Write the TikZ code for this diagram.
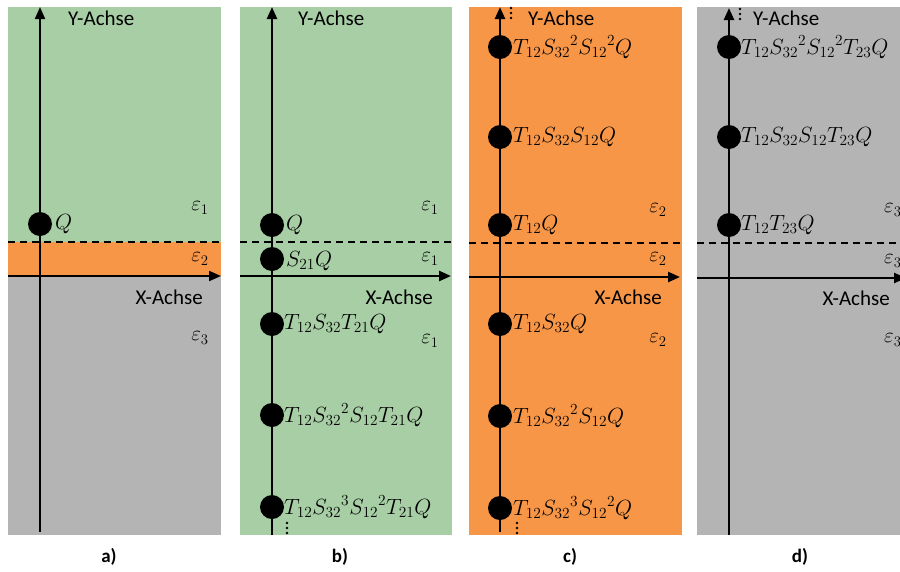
\documentclass[tikz,border=0pt]{standalone}
\usepackage{fix-cm}
\usepackage{fontspec}
\setsansfont{Carlito}
\usetikzlibrary{arrows.meta}
\definecolor{pgreen}{RGB}{168,206,165}
\definecolor{porange}{RGB}{248,150,72}
\definecolor{pgrey}{RGB}{180,180,180}
\newcommand{\mfont}{\fontsize{22}{26}\selectfont}
\tikzset{
  axisline/.style={line width=2.4pt, -{Triangle[length=12pt,width=10pt]}},
  dotn/.style={circle, fill=black, minimum size=24pt, inner sep=0pt},
  lbl/.style={anchor=west, inner sep=0pt, font=\mfont},
  axlbl/.style={font=\sffamily\fontsize{21}{24}\selectfont, inner sep=0pt},
  epslbl/.style={font=\fontsize{21}{24}\selectfont, inner sep=0pt},
  sublbl/.style={font=\sffamily\bfseries\fontsize{19}{22}\selectfont, inner sep=0pt},
  sepline/.style={dash pattern=on 7pt off 5pt, line width=1.8pt}
}
\newcommand{\threedots}[2]{\fill (#1,#2) circle (1.4) (#1,#2+5) circle (1.4) (#1,#2+10) circle (1.4);}
\begin{document}
\begin{tikzpicture}[x=1pt,y=-1pt]
\useasboundingbox (0,0) rectangle (900,571);
\clip (0,0) rectangle (900,571);
\fill[white] (0,0) rectangle (900,571);
% ---------------- panel a
\fill[pgreen] (8,7) rectangle (221,242);
\fill[porange] (8,242) rectangle (221,276);
\fill[pgrey] (8,276) rectangle (221,535);
\coordinate (aDl) at (8,242); \coordinate (aDr) at (221,242);
\draw[sepline] (aDl) -- (aDr);
\coordinate (aYb) at (40,532); \coordinate (aYt) at (40,7);
\coordinate (aXl) at (8,276); \coordinate (aXr) at (221,276);
\draw[axisline, line width=2pt] (aYb) -- (aYt);
\draw[axisline, line width=2pt] (aXl) -- (aXr);
\node[dotn] (aQ) at (40,224) {};
\node[lbl] (aQl) at (55,224) {$Q$};
\node[axlbl, anchor=west] (aYl) at (68,18) {Y-Achse};
\node[axlbl, anchor=east] (aXlab) at (203,297) {X-Achse};
\node[epslbl] (ae1) at (200,208) {$\varepsilon_1$};
\node[epslbl] (ae2) at (200,259) {$\varepsilon_2$};
\node[epslbl] (ae3) at (200,338) {$\varepsilon_3$};
\node[sublbl] (alab) at (109,557) {a)};
% ---------------- panel b
\fill[pgreen] (240,7) rectangle (452,535);
\coordinate (bDl) at (240,242); \coordinate (bDr) at (452,242);
\draw[sepline] (bDl) -- (bDr);
\coordinate (bYb) at (272,535); \coordinate (bYt) at (272,7);
\coordinate (bXl) at (240,276); \coordinate (bXr) at (451,276);
\draw[axisline] (bYb) -- (bYt);
\draw[axisline] (bXl) -- (bXr);
\node[dotn] (b1) at (272,225) {};
\node[lbl] (b1l) at (286,225) {$Q$};
\node[dotn] (b2) at (272,259) {};
\node[lbl] (b2l) at (286,261) {$S_{21}Q$};
\node[dotn] (b3) at (272,324) {};
\node[lbl] (b3l) at (284,324) {$T_{12}S_{32}T_{21}Q$};
\node[dotn] (b4) at (272,415) {};
\node[lbl] (b4l) at (284,415) {$T_{12}{S_{32}}^{2}S_{12}T_{21}Q$};
\node[dotn] (b5) at (272,507) {};
\node[lbl] (b5l) at (284,507) {$T_{12}{S_{32}}^{3}{S_{12}}^{2}T_{21}Q$};
\threedots{287}{523}
\node[axlbl, anchor=west] (bYl) at (298,18) {Y-Achse};
\node[axlbl, anchor=east] (bXlab) at (433,297) {X-Achse};
\node[epslbl] (be1) at (430,208) {$\varepsilon_1$};
\node[epslbl] (be2) at (430,259) {$\varepsilon_1$};
\node[epslbl] (be3) at (430,341) {$\varepsilon_1$};
\node[sublbl] (blab) at (340,557) {b)};
% ---------------- panel c
\fill[porange] (469,7) rectangle (682,535);
\coordinate (cDl) at (469,243); \coordinate (cDr) at (682,243);
\draw[sepline] (cDl) -- (cDr);
\coordinate (cYb) at (500,532); \coordinate (cYt) at (500,7);
\coordinate (cXl) at (469,277); \coordinate (cXr) at (680,277);
\draw[axisline] (cYb) -- (cYt);
\draw[axisline] (cXl) -- (cXr);
\node[dotn] (c1) at (500,47) {};
\node[lbl] (c1l) at (513,47) {$T_{12}{S_{32}}^{2}{S_{12}}^{2}Q$};
\node[dotn] (c2) at (500,137) {};
\node[lbl] (c2l) at (513,137) {$T_{12}S_{32}S_{12}Q$};
\node[dotn] (c3) at (500,225) {};
\node[lbl] (c3l) at (513,225) {$T_{12}Q$};
\node[dotn] (c4) at (500,324) {};
\node[lbl] (c4l) at (513,324) {$T_{12}S_{32}Q$};
\node[dotn] (c5) at (500,416) {};
\node[lbl] (c5l) at (513,416) {$T_{12}{S_{32}}^{2}S_{12}Q$};
\node[dotn] (c6) at (500,508) {};
\node[lbl] (c6l) at (513,508) {$T_{12}{S_{32}}^{3}{S_{12}}^{2}Q$};
\threedots{511}{8}
\threedots{517}{523}
\node[axlbl, anchor=west] (cYl) at (528,18) {Y-Achse};
\node[axlbl, anchor=east] (cXlab) at (662,297) {X-Achse};
\node[epslbl] (ce1) at (658,210) {$\varepsilon_2$};
\node[epslbl] (ce2) at (658,259) {$\varepsilon_2$};
\node[epslbl] (ce3) at (658,340) {$\varepsilon_2$};
\node[sublbl] (clab) at (570,557) {c)};
% ---------------- panel d
\fill[pgrey] (697,7) rectangle (905,535);
\coordinate (dDl) at (697,243); \coordinate (dDr) at (905,243);
\draw[sepline] (dDl) -- (dDr);
\coordinate (dYb) at (729,535); \coordinate (dYt) at (729,8);
\coordinate (dXl) at (697,278); \coordinate (dXr) at (906,278);
\draw[axisline] (dYb) -- (dYt);
\draw[axisline] (dXl) -- (dXr);
\node[dotn] (d1) at (729,47) {};
\node[lbl] (d1l) at (741,47) {$T_{12}{S_{32}}^{2}{S_{12}}^{2}T_{23}Q$};
\node[dotn] (d2) at (729,137) {};
\node[lbl] (d2l) at (741,137) {$T_{12}S_{32}S_{12}T_{23}Q$};
\node[dotn] (d3) at (729,225) {};
\node[lbl] (d3l) at (741,225) {$T_{12}T_{23}Q$};
\threedots{740}{9}
\node[axlbl, anchor=west] (dYl) at (753,18) {Y-Achse};
\node[axlbl, anchor=east] (dXlab) at (890,298) {X-Achse};
\node[epslbl, anchor=west] (de1) at (884,210) {$\varepsilon_3$};
\node[epslbl, anchor=west] (de2) at (884,261) {$\varepsilon_3$};
\node[epslbl, anchor=west] (de3) at (884,340) {$\varepsilon_3$};
\node[sublbl] (dlab) at (800,557) {d)};
\end{tikzpicture}
\end{document}
